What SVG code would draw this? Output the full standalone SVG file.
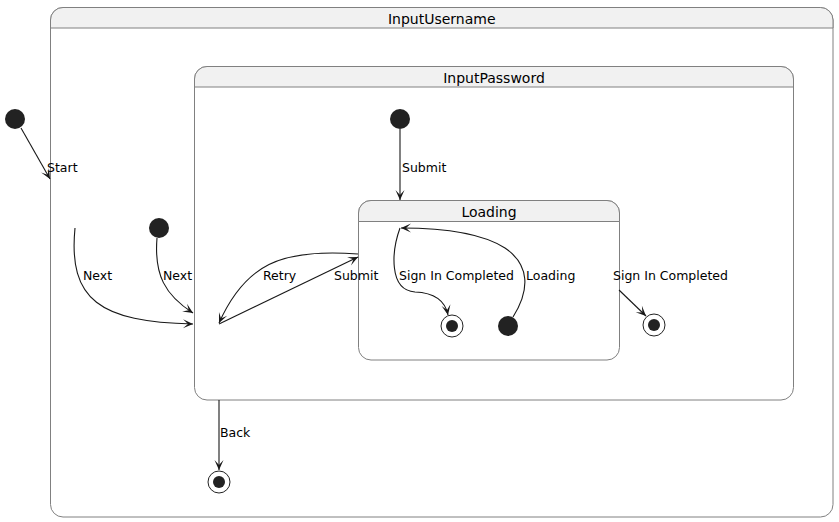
<svg xmlns="http://www.w3.org/2000/svg" width="839" height="522" viewBox="0 0 839 522">
<defs>
<style>
.box{fill:#FFFFFF;stroke:#808080;stroke-width:1}
.hdr{fill:#F1F1F1;stroke:#808080;stroke-width:1}
.title{font-family:"DejaVu Sans",sans-serif;font-size:14px;fill:#000000;text-anchor:middle}
.lbl{font-family:"DejaVu Sans",sans-serif;font-size:12.5px;fill:#000000}
.edge{fill:none;stroke:#181818;stroke-width:1.1}
.init{fill:#222222}
.fo{fill:none;stroke:#222222;stroke-width:1}
.fi{fill:#222222}
</style>
<marker id="ah" viewBox="-11 -6 12 12" refX="0" refY="0" markerWidth="12" markerHeight="12" orient="auto" markerUnits="userSpaceOnUse">
<path d="M0,0 L-10,-4.5 L-5,0 L-10,4.5 Z" fill="#181818"/>
</marker>
</defs>
<rect width="839" height="522" fill="#FFFFFF"/>

<g id="InputUsername">
<rect class="box" x="50.5" y="7.5" width="782.5" height="509.5" rx="12.5"/>
<path class="hdr" d="M50.5,28 L50.5,20 A12.5,12.5 0 0 1 63,7.5 L820.5,7.5 A12.5,12.5 0 0 1 833,20 L833,28 Z"/>
<text class="title" x="441.75" y="23.5">InputUsername</text>
</g>

<g id="InputPassword">
<rect class="box" x="194.5" y="66.5" width="599" height="333.5" rx="12.5"/>
<path class="hdr" d="M194.5,87 L194.5,79 A12.5,12.5 0 0 1 207,66.5 L781,66.5 A12.5,12.5 0 0 1 793.5,79 L793.5,87 Z"/>
<text class="title" x="494" y="82.5">InputPassword</text>
</g>

<g id="Loading">
<rect class="box" x="358.5" y="200.5" width="261" height="159.5" rx="12.5"/>
<path class="hdr" d="M358.5,221.5 L358.5,213 A12.5,12.5 0 0 1 371,200.5 L607,200.5 A12.5,12.5 0 0 1 619.5,213 L619.5,221.5 Z"/>
<text class="title" x="489" y="217">Loading</text>
</g>

<g id="start_outer"><circle class="init" cx="15" cy="119" r="10"/></g>
<g id="start_username"><circle class="init" cx="159" cy="228" r="10"/></g>
<g id="start_password"><circle class="init" cx="400" cy="119" r="10"/></g>
<g id="start_loading"><circle class="init" cx="508" cy="326" r="10"/></g>

<g id="end_loading"><circle class="fo" cx="452" cy="326" r="11"/><circle class="fi" cx="452" cy="326" r="6"/></g>
<g id="end_password"><circle class="fo" cx="654" cy="325" r="11"/><circle class="fi" cx="654" cy="325" r="6"/></g>
<g id="end_username"><circle class="fo" cx="219" cy="482" r="11"/><circle class="fi" cx="219" cy="482" r="6"/></g>

<g id="connectors">
<path class="edge" marker-end="url(#ah)" d="M21,128 L50,179"/>
<path class="edge" marker-end="url(#ah)" d="M75,228 C68,300 100,322 193,324"/>
<path class="edge" marker-end="url(#ah)" d="M157,238 C154,275 165,295 193,313"/>
<path class="edge" marker-end="url(#ah)" d="M358,254 C280,248 245,265 219,323"/>
<path class="edge" marker-end="url(#ah)" d="M219,324 L358,257"/>
<path class="edge" marker-end="url(#ah)" d="M400,129 L400,200"/>
<path class="edge" marker-end="url(#ah)" d="M400,228 C392,250 388,290 415,292 C440,293 446,305 448,315"/>
<path class="edge" marker-end="url(#ah)" d="M513,317 C530,290 530,265 505,248 C480,232 440,228 401,228"/>
<path class="edge" marker-end="url(#ah)" d="M619,290 L646,316"/>
<path class="edge" marker-end="url(#ah)" d="M219,400 L219,470"/>
<text class="lbl" x="47" y="172">Start</text>
<text class="lbl" x="83" y="280">Next</text>
<text class="lbl" x="163" y="280">Next</text>
<text class="lbl" x="263" y="280">Retry</text>
<text class="lbl" x="334" y="280">Submit</text>
<text class="lbl" x="402" y="172">Submit</text>
<text class="lbl" x="399" y="280">Sign In Completed</text>
<text class="lbl" x="526" y="280">Loading</text>
<text class="lbl" x="613" y="280">Sign In Completed</text>
<text class="lbl" x="220" y="437">Back</text>
</g>
</svg>
